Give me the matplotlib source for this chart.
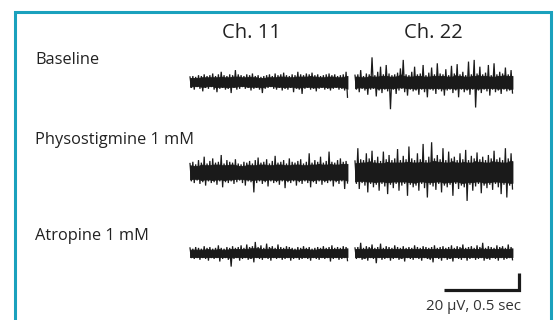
import numpy as np
import matplotlib
matplotlib.use("Agg")
import matplotlib.pyplot as plt
from matplotlib.patches import Rectangle
from numpy.lib.stride_tricks import sliding_window_view

plt.rcParams['font.family'] = ['Open Sans', 'DejaVu Sans']

# conditions (rows) and channels (columns)
conditions = ["Baseline", "Physostigmine 1 mM", "Atropine 1 mM"]
channels = ["Ch. 11", "Ch. 22"]
trace_dur = 1.05  # sec shown per channel

# trace envelopes in uV (upper peaks / lower troughs)
b11_up = [6, 7, 6, 8, 7, 9, 7, 8, 10, 7, 9, 12, 8, 7, 9, 8, 14, 9, 8, 7, 9, 8, 10, 7, 8, 6, 7, 8,
          9, 7, 10, 8, 9, 11, 8, 7, 9, 8, 12, 9, 8, 10, 9, 11, 8, 9, 7, 8, 9, 10, 8, 9, 7, 8, 9, 12]
b11_dn = [-7, -9, -6, -8, -11, -7, -8, -6, -9, -12, -8, -7, -9, -8, -13, -7, -9, -8, -6, -8, -7, -10, -8, -7, -9, -13, -8, -7,
          -6, -8, -9, -7, -10, -8, -9, -7, -12, -8, -9, -14, -8, -7, -9, -8, -11, -8, -7, -9, -8, -10, -8, -7, -9, -8, -10, -18]
b22_up = [8, 9, 14, 7, 10, 9, 29, 8, 12, 18, 9, 20, 10, 8, 9, 11, 16, 26, 9, 8, 12, 18, 9, 10, 20, 8, 11, 17,
          9, 22, 10, 9, 15, 8, 19, 10, 21, 9, 12, 8, 24, 9, 26, 10, 18, 9, 11, 20, 8, 22, 9, 12, 10, 17, 9, 14]
b22_dn = [-9, -12, -8, -10, -15, -9, -8, -17, -10, -13, -9, -11, -32, -9, -14, -10, -8, -12, -16, -9, -11, -10, -15, -9, -12, -18, -9, -10,
          -14, -9, -11, -16, -10, -9, -13, -10, -18, -9, -12, -10, -15, -9, -30, -10, -13, -9, -11, -16, -9, -12, -10, -14, -9, -11, -10, -13]
p11_up = [10, 12, 9, 14, 11, 18, 10, 13, 16, 11, 12, 20, 10, 14, 12, 11, 15, 10, 9, 12, 11, 13, 10, 14, 17, 11, 12, 15,
          10, 13, 19, 11, 12, 14, 10, 16, 12, 11, 13, 15, 10, 12, 22, 11, 14, 12, 18, 11, 13, 24, 12, 11, 14, 16, 12, 13]
p11_dn = [-11, -13, -10, -14, -12, -16, -11, -13, -12, -15, -11, -18, -12, -13, -11, -14, -12, -10, -13, -16, -11, -12, -24, -13, -11, -14, -12, -17,
          -11, -13, -12, -15, -11, -19, -12, -13, -11, -16, -12, -14, -11, -13, -18, -12, -14, -11, -15, -12, -13, -11, -17, -12, -14, -11, -20, -13]
p22_up = [13, 28, 15, 14, 22, 16, 25, 14, 18, 13, 24, 15, 20, 14, 16, 27, 14, 19, 15, 30, 16, 14, 22, 15, 33, 14, 18, 35,
          16, 20, 15, 28, 14, 24, 16, 18, 14, 22, 15, 26, 14, 19, 16, 23, 15, 18, 14, 20, 16, 25, 15, 17, 14, 28, 16, 22]
p22_dn = [-14, -20, -13, -16, -24, -14, -18, -15, -22, -14, -17, -26, -15, -19, -14, -22, -16, -14, -28, -15, -18, -16, -22, -14, -19, -30, -15, -17,
          -21, -14, -24, -16, -18, -15, -28, -14, -20, -16, -18, -34, -15, -22, -17, -14, -25, -16, -19, -15, -21, -14, -18, -26, -15, -30, -16, -20]
a11_up = [6, 5, 7, 6, 5, 8, 6, 7, 5, 6, 9, 6, 5, 7, 6, 8, 6, 7, 9, 6, 10, 7, 8, 13, 7, 9, 6, 11,
          7, 8, 6, 10, 7, 6, 8, 7, 6, 5, 7, 6, 8, 6, 7, 5, 6, 7, 6, 8, 6, 7, 9, 6, 7, 6, 8, 7]
a11_dn = [-6, -7, -6, -8, -6, -7, -9, -6, -7, -6, -10, -7, -6, -8, -16, -7, -6, -9, -7, -6, -8, -7, -11, -6, -7, -8, -6, -7,
          -9, -6, -7, -6, -8, -7, -6, -9, -7, -6, -8, -7, -6, -7, -9, -6, -7, -8, -6, -7, -6, -10, -7, -6, -8, -7, -6, -9]
a22_up = [6, 7, 12, 6, 8, 7, 10, 6, 7, 11, 6, 8, 7, 6, 9, 7, 6, 8, 6, 7, 6, 9, 7, 6, 8, 7, 6, 7,
          9, 6, 7, 8, 6, 7, 9, 6, 8, 7, 10, 6, 7, 8, 6, 9, 7, 12, 6, 8, 7, 6, 9, 7, 8, 6, 10, 7]
a22_dn = [-7, -6, -8, -7, -9, -6, -7, -12, -6, -8, -7, -6, -9, -7, -6, -8, -7, -10, -6, -7, -8, -6, -7, -9, -6, -7, -8, -11,
          -6, -7, -9, -6, -8, -7, -10, -6, -7, -8, -6, -9, -7, -6, -8, -7, -6, -9, -7, -8, -6, -7, -9, -6, -8, -7, -6, -8]

traces = [[(b11_up, b11_dn), (b22_up, b22_dn)],
          [(p11_up, p11_dn), (p22_up, p22_dn)],
          [(a11_up, a11_dn), (a22_up, a22_dn)]]

scale_uV = 20
scale_sec = 0.5

# layout (figure pixels -> data units)
W, H = 556, 320
px_per_s = 150.0
px_per_uV = 0.85
x0_px = 190
ch_start = [0.0, 1.1]         # sec
row_y = [82, 172, 253]        # pixel centre of each row
core_frac = 0.8               # solid part of the noise band
ink = '#1a1a1a'
border = '#1aa1bd'

fig = plt.figure(figsize=(W / 100, H / 100), dpi=100)
ax = fig.add_axes([0, 0, 1, 1])
ax.set_xlim(-x0_px / px_per_s, (W - x0_px) / px_per_s)
ax.set_ylim(0, H / px_per_uV)
ax.axis('off')

for r, row in enumerate(traces):
    off = (H - row_y[r]) / px_per_uV
    for c, (up, dn) in enumerate(row):
        n = min(len(up), len(dn))
        up = np.asarray(up[:n], float)
        dn = np.asarray(dn[:n], float)
        # solid core of the noise band
        up_core = core_frac * sliding_window_view(np.pad(up, 1, mode='edge'), 3).min(axis=1)
        dn_core = core_frac * sliding_window_view(np.pad(dn, 1, mode='edge'), 3).max(axis=1)
        tc = ch_start[c] + np.linspace(0, trace_dur, n)
        ax.fill_between(tc, dn_core + off, up_core + off, color=ink, lw=0.6)
        # spikes
        v = np.empty(2 * n)
        v[0::2] = up
        v[1::2] = dn
        t = ch_start[c] + np.linspace(0, trace_dur, 2 * n)
        ax.plot(t, v + off, color=ink, lw=0.9, solid_joinstyle='miter')

# scale bar
sb_t = (444 - x0_px) / px_per_s
sb_v = (H - 290) / px_per_uV
ax.plot([sb_t, sb_t + scale_sec, sb_t + scale_sec], [sb_v, sb_v, sb_v + scale_uV],
        color=ink, lw=2.3, solid_capstyle='butt', solid_joinstyle='miter')

def fx(px):
    return px / W

def fy(py):
    return 1 - py / H

txt = '#222222'
fig.text(fx(252), fy(33), channels[0], ha='center', va='center', fontsize=14.5, color=txt)
fig.text(fx(433), fy(33), channels[1], ha='center', va='center', fontsize=14.5, color=txt)
for lab, py in zip(conditions, [60, 140, 236]):
    fig.text(fx(35), fy(py), lab, ha='left', va='center', fontsize=11.8, color=txt)
fig.text(fx(473), fy(307), f"{scale_uV} \u03bcV, {scale_sec} sec", ha='center', va='center',
         fontsize=10.8, color='#333333')

# frame
fig.patches.append(Rectangle((fx(15), fy(340)), fx(536), 340 / H - 11.5 / H, transform=fig.transFigure,
                             fill=False, edgecolor=border, lw=2.2))

fig.savefig('out.png', dpi=100)
